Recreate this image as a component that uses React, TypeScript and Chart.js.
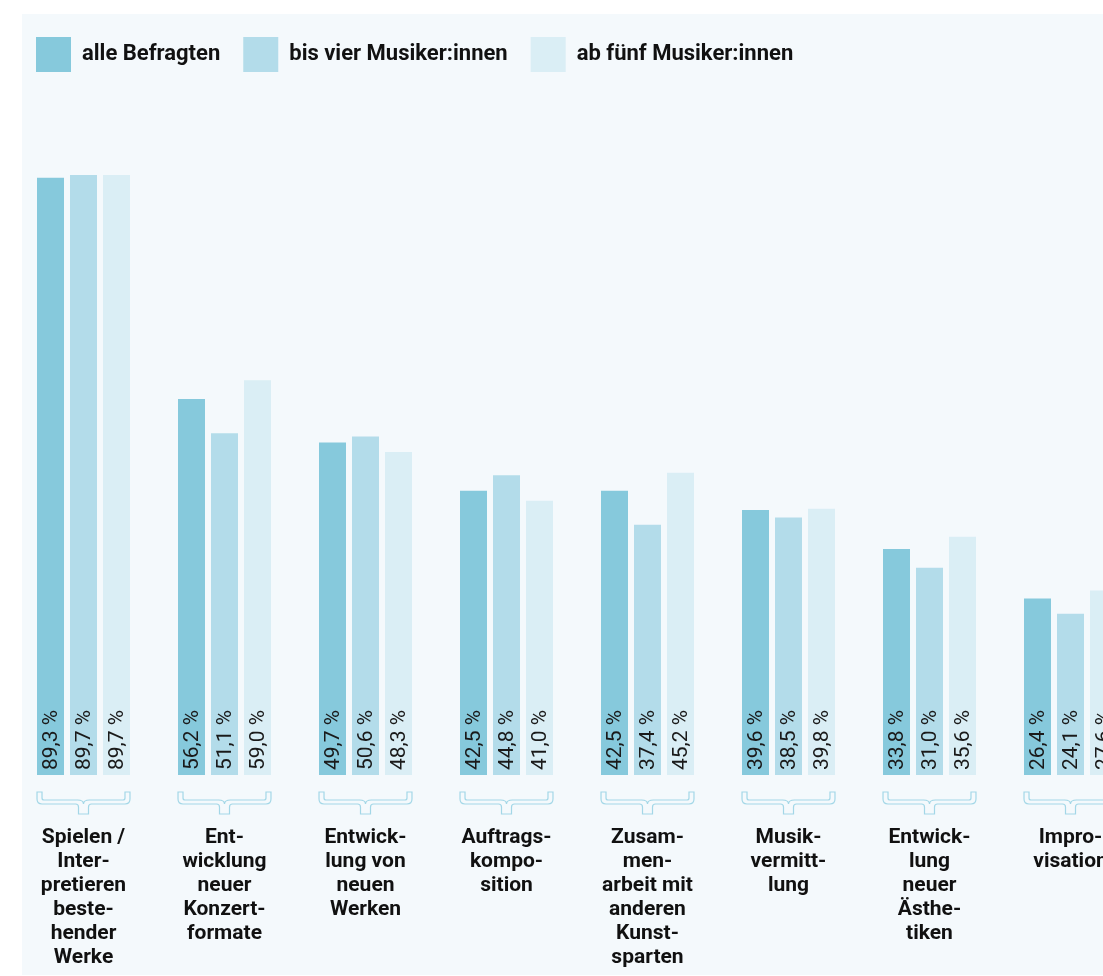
import React, { useEffect, useRef } from 'react';
import { Chart, registerables } from 'chart.js';

Chart.register(...registerables);

const categories: string[][] = [
  ['Spielen /', 'Inter-', 'pretieren', 'beste-', 'hender', 'Werke'],
  ['Ent-', 'wicklung', 'neuer', 'Konzert-', 'formate'],
  ['Entwick-', 'lung von', 'neuen', 'Werken'],
  ['Auftrags-', 'kompo-', 'sition'],
  ['Zusam-', 'men-', 'arbeit mit', 'anderen', 'Kunst-', 'sparten'],
  ['Musik-', 'vermitt-', 'lung'],
  ['Entwick-', 'lung', 'neuer', 'Ästhe-', 'tiken'],
  ['Impro-', 'visation'],
];

const seriesLabels = ['alle Befragten', 'bis vier Musiker:innen', 'ab fünf Musiker:innen'];
const alleBefragten = [89.3, 56.2, 49.7, 42.5, 42.5, 39.6, 33.8, 26.4];
const bisVierMusiker = [89.7, 51.1, 50.6, 44.8, 37.4, 38.5, 31.0, 24.1];
const abFuenfMusiker = [89.7, 59.0, 48.3, 41.0, 45.2, 39.8, 35.6, 27.6];
const seriesColors = ['#86c9dc', '#b3dcea', '#daeef5'];

const FONT = 'Roboto, "Noto Sans", sans-serif';

const valueLabelPlugin = {
  id: 'valueLabels',
  afterDatasetsDraw(chart: any) {
    const ctx = chart.ctx;
    const y0 = chart.scales.y.getPixelForValue(0);
    ctx.save();
    ctx.font = `21px ${FONT}`;
    ctx.fillStyle = '#1a1a1a';
    ctx.textAlign = 'left';
    ctx.textBaseline = 'middle';
    chart.data.datasets.forEach((ds: any, di: number) => {
      const meta = chart.getDatasetMeta(di);
      meta.data.forEach((bar: any, i: number) => {
        const v = ds.data[i] as number;
        const txt = v.toFixed(1).replace('.', ',') + ' %';
        ctx.save();
        ctx.translate(bar.x + 1.5, y0 - 5);
        ctx.rotate(-Math.PI / 2);
        ctx.fillText(txt, 0, 0);
        ctx.restore();
      });
    });
    ctx.restore();
  },
};

const bracePlugin = {
  id: 'braces',
  afterDraw(chart: any) {
    const ctx = chart.ctx;
    const bottom = chart.chartArea.bottom;
    const m0 = chart.getDatasetMeta(0);
    const m2 = chart.getDatasetMeta(2);
    ctx.save();
    ctx.strokeStyle = '#a3d7e7';
    ctx.lineWidth = 1.2;
    m0.data.forEach((b0: any, i: number) => {
      const b2 = m2.data[i];
      const L = b0.x - b0.width / 2;
      const R = b2.x + b2.width / 2;
      const C = (L + R) / 2;
      const T = bottom + 17;
      const y1 = bottom + 25;
      const y2 = bottom + 29;
      const nb = bottom + 39;
      const bw = 5;
      const nw = 5;
      const r = 5;
      const r1 = 2;
      const r2 = 3;
      ctx.beginPath();
      ctx.moveTo(L, T);
      ctx.lineTo(L, y2 - r);
      ctx.quadraticCurveTo(L, y2, L + r, y2);
      ctx.lineTo(C - nw - r2, y2);
      ctx.quadraticCurveTo(C - nw, y2, C - nw, y2 + r2);
      ctx.lineTo(C - nw, nb);
      ctx.lineTo(C + nw, nb);
      ctx.lineTo(C + nw, y2 + r2);
      ctx.quadraticCurveTo(C + nw, y2, C + nw + r2, y2);
      ctx.lineTo(R - r, y2);
      ctx.quadraticCurveTo(R, y2, R, y2 - r);
      ctx.lineTo(R, T);
      ctx.lineTo(R - bw, T);
      ctx.lineTo(R - bw, y1 - r1);
      ctx.quadraticCurveTo(R - bw, y1, R - bw - r1, y1);
      ctx.lineTo(C + 6, y1);
      ctx.quadraticCurveTo(C, y1, C, y1 + 4);
      ctx.quadraticCurveTo(C, y1, C - 6, y1);
      ctx.lineTo(L + bw + r1, y1);
      ctx.quadraticCurveTo(L + bw, y1, L + bw, y1 - r1);
      ctx.lineTo(L + bw, T);
      ctx.closePath();
      ctx.stroke();
    });
    ctx.restore();
  },
};

export default function App() {
  const canvasRef = useRef<HTMLCanvasElement | null>(null);

  useEffect(() => {
    if (!canvasRef.current) return;
    const chart = new Chart(canvasRef.current, {
      type: 'bar',
      data: {
        labels: categories,
        datasets: [alleBefragten, bisVierMusiker, abFuenfMusiker].map((d, i) => ({
          label: seriesLabels[i],
          data: d,
          backgroundColor: seriesColors[i],
          borderWidth: 0,
          categoryPercentage: 0.702,
          barPercentage: 0.818,
        })),
      },
      options: {
        animation: false,
        responsive: true,
        maintainAspectRatio: false,
        layout: { padding: 0, autoPadding: false },
        plugins: {
          legend: {
            position: 'top',
            align: 'start',
            labels: {
              boxWidth: 35,
              boxHeight: 35,
              padding: 23,
              color: '#111111',
              font: { family: FONT, size: 22, weight: 'bold' },
            },
          },
          tooltip: { enabled: false },
        },
        scales: {
          x: {
            grid: { display: false, drawTicks: true, tickLength: 49 },
            border: { display: false },
            ticks: {
              padding: 2,
              color: '#111111',
              autoSkip: false,
              maxRotation: 0,
              minRotation: 0,
              font: { family: FONT, size: 21, weight: 'bold', lineHeight: '24px' },
            },
          },
          y: {
            display: false,
            min: 0,
            max: 103.6,
          },
        },
      },
      plugins: [valueLabelPlugin, bracePlugin],
    } as any);
    return () => chart.destroy();
  }, []);

  return (
    <div
      style={{
        position: 'fixed',
        left: 0,
        top: 0,
        width: 1103,
        height: 976,
        overflow: 'hidden',
        background: '#ffffff',
      }}
    >
      <div
        style={{
          position: 'absolute',
          left: 22,
          top: 14,
          width: 1081,
          height: 961,
          background: '#f4f9fc',
        }}
      />
      <div style={{ position: 'absolute', left: 13, top: 14, width: 1128, height: 958 }}>
        <canvas ref={canvasRef} />
      </div>
    </div>
  );
}
